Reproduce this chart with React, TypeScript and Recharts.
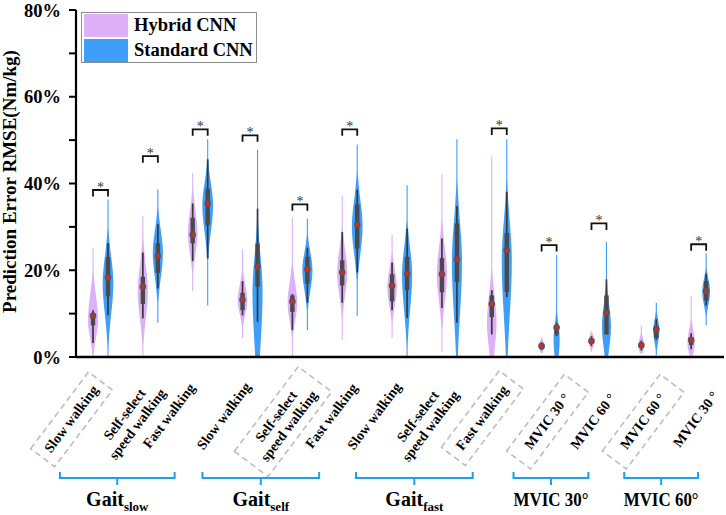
import React from 'react';
import { ComposedChart, Bar, XAxis, YAxis, Legend } from 'recharts';

// ---------------- data (values in %) ----------------
const categories = [
  'Slow walking', 'Self-select\nspeed walking', 'Fast walking',
  'Slow walking', 'Self-select\nspeed walking', 'Fast walking',
  'Slow walking', 'Self-select\nspeed walking', 'Fast walking',
  'MVIC 30 °', 'MVIC 60 °', 'MVIC 60 °', 'MVIC 30 °',
];
const highlighted = [true, false, false, false, true, false, false, false, true, true, false, true, false];
const groupNames = [['Gait', 'slow'], ['Gait', 'self'], ['Gait', 'fast'], ['MVIC 30°', ''], ['MVIC 60°', '']];
const groupSizes = [3, 3, 3, 2, 2];
const seriesNames = ['Hybrid CNN', 'Standard CNN'];
const yTicks = [0, 10, 20, 30, 40, 50, 60, 70, 80];

// [min, max] of each violin
const hybridRange = [
  [0, 25.2], [0.3, 32.5], [15.2, 42.4], [4.4, 24.8], [0, 32.2], [4.0, 37.1], [4.4, 28.1],
  [1.2, 42.1], [0, 46.3], [0.9, 4.5], [1.2, 5.9], [0.8, 7.2], [0, 14.0],
];
const standardRange = [
  [0, 36.3], [7.9, 38.6], [11.9, 50.2], [0, 47.8], [6.2, 31.9], [9.5, 49.0], [0, 39.6],
  [0, 50.2], [0, 50.2], [0, 23.5], [0, 26.5], [0.4, 12.5], [7.3, 23.9],
];
// density: [mode, relative peak density, spread below, spread above]
const hybridKde = [
  [8.5, 0.9, 4, 5.5], [15, 0.9, 6, 6], [28.5, 0.85, 4.5, 5], [13, 0.85, 3, 3.5], [12.5, 0.85, 4, 4.5],
  [19.5, 0.9, 5, 5], [16, 0.85, 4, 4], [19, 0.9, 6, 6], [8, 0.85, 6, 6], [2.5, 0.55, 1.0, 1.0],
  [3.7, 0.55, 1.2, 1.2], [2.7, 0.55, 1.5, 1.5], [3, 0.65, 2, 3],
];
const standardKde = [
  [17, 0.95, 7, 6], [24, 0.9, 5.5, 5], [35, 0.95, 6, 5], [15, 0.9, 12, 8], [20, 0.9, 4.5, 4],
  [30, 0.95, 6, 6], [19, 0.9, 8, 6], [22, 0.9, 12, 9], [22, 0.9, 12, 9], [4, 0.55, 4, 3.5],
  [7, 0.8, 5, 5], [6, 0.55, 2.5, 2.5], [15, 0.7, 2.8, 2.8],
];
// box: [whisker low, Q1, median, Q3, whisker high]
const hybridBox = [
  [3.2, 7.3, 9.5, 10.2, 10.8], [8.9, 12.2, 16.2, 18.5, 24.1], [22.1, 26.2, 28.2, 32.1, 35.4],
  [9.6, 10.8, 13.2, 14.8, 17.5], [6.2, 10.4, 12.8, 14.2, 14.5], [12.5, 16.5, 19.5, 22.3, 28.8],
  [10.8, 12.8, 16.4, 19.1, 21.8], [11.3, 14.9, 19.1, 22.8, 27.3], [5.2, 9.2, 12.2, 14.2, 15.4],
  [1.6, 2.0, 2.5, 3.0, 3.4], [2.5, 3.1, 3.7, 4.2, 4.8], [1.5, 2.1, 2.7, 3.2, 3.8],
  [1.8, 2.8, 3.9, 4.6, 5.5],
];
const standardBox = [
  [9.6, 14.0, 18.3, 23.0, 26.3], [15.8, 19.4, 23.3, 26.2, 30.6], [22.7, 30.4, 35.4, 38.8, 45.6],
  [8.1, 16.2, 20.8, 26.2, 34.2], [12.5, 16.9, 20.2, 23.1, 25.2], [19.5, 25.0, 30.5, 35.2, 38.6],
  [9.0, 15.4, 19.2, 23.1, 29.6], [7.9, 17.3, 22.5, 30.8, 34.8], [13.8, 15.0, 24.6, 28.6, 38.1],
  [4.8, 5.2, 6.8, 7.4, 7.9], [5.2, 5.2, 10.2, 14.2, 17.9], [4.0, 4.4, 6.4, 7.2, 8.7],
  [11.9, 13.0, 15.2, 17.5, 19.2],
];
// height of significance bracket (null = none)
const sigLevel = [38.5, 46.3, 52.5, 51.1, 35.2, 52.5, null, null, 52.7, 25.8, 30.8, null, 26.0];

// ---------------- styling / layout ----------------
const FONT = "'Liberation Serif', 'Times New Roman', serif";
const PINK = '#DEB0F7';
const BLUE = '#3E9EFA';
const GROUP_BLUE = '#1EA0E8';
const MAX_HALF = 5.6;
const ANGLE = -53;
const STEP = 648 / 13;
const TICK_FS = 14;
// label anchor offsets from (category centre, axis line)
const LABEL_POS = [
  [-2, 33], [-20, 62], [-5, 31], [1, 30], [-18, 64], [8, 31], [2, 30],
  [-26, 64], [9, 33], [21, 41], [17, 41], [17, 41], [20, 39],
];
const GROUP_EDGES = [[-41, -26], [-48, -31], [-44, -27], [-36, -11], [-25, -1]];

const chartData = categories.map((name, idx) => ({
  name,
  idx,
  hybrid: hybridRange[idx],
  standard: standardRange[idx],
}));

let measureCtx: CanvasRenderingContext2D | null = null;
function textWidth(s: string, size: number) {
  if (!measureCtx && typeof document !== 'undefined') {
    measureCtx = document.createElement('canvas').getContext('2d');
  }
  if (!measureCtx) return s.length * size * 0.5;
  measureCtx.font = `bold ${size}px 'Liberation Serif'`;
  return measureCtx.measureText(s).width;
}

function makeViolin(key: 'hybrid' | 'standard', kde: number[][], box: number[][], color: string, withSig: boolean) {
  return (props: any) => {
    const { x, y, width, height, payload } = props;
    if (x == null || y == null || !payload) return <g />;
    const i = payload.idx;
    const [lo, hi] = payload[key];
    const top = Math.min(y, y + height);
    const bot = Math.max(y, y + height);
    const yOf = (v: number) => bot - ((v - lo) / (hi - lo)) * (bot - top);
    const cx = x + width / 2;
    const [mode, dens, sLo, sHi] = kde[i];
    const W = dens * MAX_HALF;
    const N = 90;
    const left: string[] = [];
    const right: string[] = [];
    for (let k = 0; k <= N; k++) {
      const v = lo + ((hi - lo) * k) / N;
      const s = v < mode ? sLo : sHi;
      const d = (v - mode) / s;
      const g = Math.exp(-0.5 * d * d);
      const t = v < mode ? (v - lo) / Math.max(mode - lo, 1e-6) : (hi - v) / Math.max(hi - mode, 1e-6);
      const w = Math.max(W * g, W * 0.16 * t, 0.55);
      const yy = yOf(v);
      left.push(`${(cx - w).toFixed(2)},${yy.toFixed(2)}`);
      right.unshift(`${(cx + w).toFixed(2)},${yy.toFixed(2)}`);
    }
    const path = `M${left.join('L')}L${right.join('L')}Z`;
    const [wlo, q1, med, q3, whi] = box[i];
    const sig = sigLevel[i];
    return (
      <g>
        <path d={path} fill={color} stroke="none" />
        <line x1={cx} x2={cx} y1={yOf(wlo)} y2={yOf(whi)} stroke="#383838" strokeWidth={1.7} />
        <rect x={cx - 2.2} width={4.4} y={yOf(q3)} height={Math.max(yOf(q1) - yOf(q3), 0.5)} fill="#4a4a4a" />
        <circle cx={cx} cy={yOf(med)} r={3.3} fill="#555" />
        <circle cx={cx} cy={yOf(med)} r={1.9} fill="#E3221C" />
        {withSig && sig != null && (
          <g>
            <path
              d={`M${cx - 15},${yOf(sig) + 6.5}V${yOf(sig)}H${cx}V${yOf(sig) + 6.5}`}
              fill="none"
              stroke="#111"
              strokeWidth={1.8}
            />
            <text x={cx - 7.5} y={yOf(sig) + 1.5} textAnchor="middle" fontSize={14} fill="#333" fontFamily={FONT}>
              *
            </text>
          </g>
        )}
      </g>
    );
  };
}

const hybridShape = makeViolin('hybrid', hybridKde, hybridBox, PINK, false);
const standardShape = makeViolin('standard', standardKde, standardBox, BLUE, true);

const groupStarts = groupSizes.reduce<number[]>((acc, _s, k) => {
  acc.push(k === 0 ? 0 : acc[k - 1] + groupSizes[k - 1]);
  return acc;
}, []);

const XTick = (props: any) => {
  const { x, y, payload } = props;
  const i = props.index ?? payload.index;
  const [dx, dy] = LABEL_POS[i];
  const px = x + dx;
  const py = y + dy;
  const rot = `rotate(${ANGLE}, ${px}, ${py})`;
  const lines = categories[i].split('\n');
  const common = {
    fontFamily: FONT,
    fontWeight: 'bold' as const,
    fontSize: TICK_FS,
    fill: '#000',
  };
  let textEl: React.ReactNode;
  let boxEl: React.ReactNode = null;
  if (lines.length === 1) {
    const L = textWidth(lines[0], TICK_FS);
    textEl = (
      <text x={px} y={py} textAnchor="end" transform={rot} {...common}>
        {lines[0]}
      </text>
    );
    if (highlighted[i]) {
      const bcx = px - L / 2;
      const bcy = py - TICK_FS * 0.3;
      boxEl = (
        <rect x={bcx - 48} y={bcy - 15} width={96} height={30} transform={rot} fill="none" stroke="#BDBDBD" strokeWidth={1.6} strokeDasharray="6 4" />
      );
    }
  } else {
    textEl = (
      <text x={px} y={py} textAnchor="middle" transform={rot} {...common}>
        <tspan x={px} dy={-3}>{lines[0]}</tspan>
        <tspan x={px} dy={16}>{lines[1]}</tspan>
      </text>
    );
    if (highlighted[i]) {
      boxEl = (
        <rect x={px - 53} y={py - 20} width={106} height={42} transform={rot} fill="none" stroke="#BDBDBD" strokeWidth={1.6} strokeDasharray="6 4" />
      );
    }
  }
  const g = groupStarts.indexOf(i);
  let groupEl: React.ReactNode = null;
  if (g >= 0) {
    const xl = x + GROUP_EDGES[g][0];
    const xr = x + (groupSizes[g] - 1) * STEP + GROUP_EDGES[g][1];
    const yb = y + 121;
    const xm = (xl + xr) / 2;
    const [main, sub] = groupNames[g];
    groupEl = (
      <g>
        <path d={`M${xl},${yb - 6}V${yb}H${xr}V${yb - 6}M${xm},${yb}V${yb + 7}`} fill="none" stroke={GROUP_BLUE} strokeWidth={2} />
        {sub ? (
          <text x={xm} y={y + 149} textAnchor="middle" fontFamily={FONT} fontWeight="bold" fontSize={20} fill="#000">
            <tspan>{main}</tspan>
            <tspan fontSize={13} dy={5}>
              {sub}
            </tspan>
          </text>
        ) : (
          <text
            x={xm}
            y={y + 149}
            textAnchor="middle"
            fontFamily={FONT}
            fontWeight="bold"
            fontSize={19}
            fill="#000"
            textLength={75}
            lengthAdjust="spacingAndGlyphs"
          >
            {main}
          </text>
        )}
      </g>
    );
  }
  return (
    <g>
      {boxEl}
      {textEl}
      {groupEl}
    </g>
  );
};

const LegendBox = () => (
  <div
    style={{
      width: 176,
      height: 51,
      border: '1px solid #8c8c8c',
      boxSizing: 'border-box',
      background: '#fff',
      position: 'relative',
      fontFamily: FONT,
      fontWeight: 'bold',
      fontSize: 18.5,
      color: '#000',
    }}
  >
    {seriesNames.map((n, k) => (
      <div key={n} style={{ position: 'absolute', left: 2, top: 1 + k * 25, height: 23, display: 'flex', alignItems: 'center' }}>
        <div style={{ width: 44, height: 23, background: k === 0 ? PINK : BLUE }} />
        <span style={{ marginLeft: 6, lineHeight: '23px', whiteSpace: 'nowrap' }}>{n}</span>
      </div>
    ))}
  </div>
);

export default function App() {
  return (
    <div style={{ position: 'absolute', left: 0, top: 0, width: 726, height: 515, background: '#fff' }}>
      <ComposedChart
        width={726}
        height={515}
        data={chartData}
        margin={{ top: 10, right: 2, bottom: 0, left: 0 }}
        barGap={1}
      >
        <XAxis
          dataKey="name"
          type="category"
          interval={0}
          height={158}
          tickLine={false}
          tickSize={0}
          tickMargin={0}
          axisLine={{ stroke: '#000', strokeWidth: 2.4 }}
          tick={<XTick />}
        />
        <YAxis
          type="number"
          domain={[0, 80]}
          ticks={yTicks}
          interval={0}
          allowDataOverflow
          width={76}
          tickSize={7}
          tickMargin={8}
          axisLine={{ stroke: '#000', strokeWidth: 2.2 }}
          tickLine={{ stroke: '#000', strokeWidth: 2 }}
          tickFormatter={(v: number) => (v % 20 === 0 ? `${v}%` : '')}
          tick={{ fontFamily: FONT, fontWeight: 'bold', fontSize: 18.5, fill: '#000' }}
          label={{
            content: () => (
              <text
                x={16}
                y={181.5}
                transform="rotate(-90, 16, 181.5)"
                textAnchor="middle"
                fontFamily={FONT}
                fontWeight="bold"
                fontSize={19}
                fill="#000"
              >
                Prediction Error RMSE(Nm/kg)
              </text>
            ),
          }}
        />
        <Legend
          layout="horizontal"
          verticalAlign="middle"
          align="center"
          wrapperStyle={{ left: 81, top: 12, width: 'auto', right: 'auto', bottom: 'auto' }}
          content={() => <LegendBox />}
        />
        <Bar dataKey="hybrid" name={seriesNames[0]} barSize={14} shape={hybridShape} isAnimationActive={false} />
        <Bar dataKey="standard" name={seriesNames[1]} barSize={14} shape={standardShape} isAnimationActive={false} />
      </ComposedChart>
    </div>
  );
}
